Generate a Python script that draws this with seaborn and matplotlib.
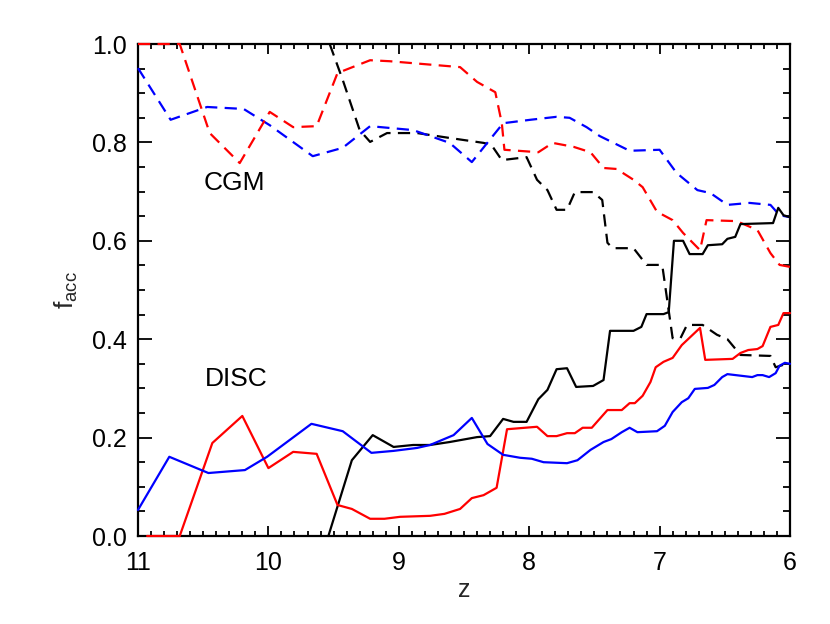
import numpy as np
import pandas as pd
import matplotlib
matplotlib.use("Agg")
import matplotlib.pyplot as plt
import seaborn as sns
from matplotlib.ticker import MultipleLocator

# ---------------- data ----------------
z_red_cgm = [11.0, 10.68, 10.45, 10.22, 9.99, 9.81, 9.63, 9.47, 9.22, 9.07, 8.53, 8.40, 8.26, 8.21, 8.19,
             7.93, 7.82, 7.66, 7.53, 7.43, 7.33, 7.20, 7.13, 7.02, 6.90, 6.82, 6.69, 6.64, 6.41, 6.25,
             6.15, 6.08, 6.0]
f_red_cgm = [1.0, 1.0, 0.819, 0.758, 0.862, 0.831, 0.833, 0.941, 0.967, 0.965, 0.953, 0.923, 0.902, 0.839, 0.785,
             0.780, 0.799, 0.791, 0.780, 0.748, 0.746, 0.724, 0.709, 0.659, 0.642, 0.616, 0.581, 0.642, 0.640, 0.622,
             0.575, 0.551, 0.547]

z_blue_cgm = [11.0, 10.75, 10.47, 10.19, 9.99, 9.66, 9.43, 9.22, 8.89, 8.61, 8.44, 8.20, 7.99, 7.79, 7.69,
              7.56, 7.46, 7.23, 7.00, 6.87, 6.71, 6.61, 6.48, 6.31, 6.15, 6.08, 6.0]
f_blue_cgm = [0.951, 0.846, 0.872, 0.868, 0.835, 0.772, 0.789, 0.833, 0.825, 0.799, 0.760, 0.839, 0.846, 0.852, 0.850,
              0.831, 0.813, 0.783, 0.785, 0.738, 0.703, 0.697, 0.673, 0.677, 0.673, 0.652, 0.648]

z_black_cgm = [9.53, 9.43, 9.30, 9.22, 9.09, 8.86, 8.61, 8.35, 8.29, 8.21, 8.02, 7.94, 7.86, 7.79, 7.71,
               7.65, 7.51, 7.44, 7.40, 7.36, 7.20, 7.10, 6.98, 6.90, 6.84, 6.79, 6.67, 6.56, 6.48, 6.38,
               6.15, 6.11, 6.05]
f_black_cgm = [1.0, 0.927, 0.825, 0.801, 0.819, 0.819, 0.809, 0.799, 0.795, 0.764, 0.770, 0.724, 0.703, 0.663, 0.663,
               0.699, 0.699, 0.683, 0.596, 0.585, 0.585, 0.551, 0.551, 0.402, 0.402, 0.429, 0.429, 0.409, 0.400, 0.368,
               0.366, 0.343, 0.348]

z_black_disc = [9.54, 9.36, 9.20, 9.04, 8.89, 8.76, 8.61, 8.40, 8.30, 8.20, 8.12, 8.02, 7.93, 7.86, 7.79,
                7.71, 7.64, 7.51, 7.43, 7.38, 7.20, 7.14, 7.10, 6.97, 6.93, 6.89, 6.82, 6.77, 6.67, 6.63,
                6.52, 6.48, 6.42, 6.38, 6.13, 6.09, 6.05, 6.0]
f_black_disc = [0.0, 0.154, 0.205, 0.181, 0.185, 0.185, 0.191, 0.201, 0.203, 0.238, 0.232, 0.232, 0.278, 0.297, 0.339,
                0.341, 0.303, 0.305, 0.317, 0.417, 0.417, 0.425, 0.451, 0.451, 0.455, 0.600, 0.600, 0.573, 0.573, 0.591,
                0.593, 0.604, 0.608, 0.634, 0.636, 0.667, 0.652, 0.648]

z_red_disc = [10.93, 10.68, 10.43, 10.20, 10.00, 9.81, 9.63, 9.47, 9.36, 9.22, 9.11, 8.99, 8.76, 8.65, 8.53,
              8.44, 8.35, 8.25, 8.17, 7.94, 7.86, 7.79, 7.71, 7.65, 7.59, 7.52, 7.44, 7.40, 7.29, 7.23,
              7.19, 7.13, 7.07, 7.03, 6.97, 6.90, 6.83, 6.69, 6.65, 6.44, 6.38, 6.32, 6.25, 6.21, 6.15,
              6.09, 6.05, 6.0]
f_red_disc = [0.0, 0.0, 0.189, 0.244, 0.138, 0.171, 0.167, 0.063, 0.055, 0.035, 0.035, 0.039, 0.041, 0.045, 0.055,
              0.077, 0.083, 0.098, 0.217, 0.222, 0.203, 0.203, 0.209, 0.209, 0.220, 0.220, 0.244, 0.256, 0.256, 0.270,
              0.270, 0.285, 0.313, 0.343, 0.354, 0.362, 0.388, 0.423, 0.358, 0.360, 0.372, 0.378, 0.380, 0.386, 0.425,
              0.429, 0.453, 0.453]

z_blue_disc = [11.0, 10.76, 10.46, 10.18, 10.01, 9.67, 9.43, 9.21, 9.04, 8.86, 8.76, 8.58, 8.44, 8.32, 8.20,
               8.07, 7.98, 7.89, 7.71, 7.63, 7.53, 7.43, 7.37, 7.29, 7.23, 7.17, 7.02, 6.96, 6.90, 6.83,
               6.78, 6.73, 6.63, 6.58, 6.52, 6.48, 6.29, 6.25, 6.21, 6.16, 6.11, 6.08, 6.04, 6.0]
f_blue_disc = [0.053, 0.161, 0.128, 0.134, 0.161, 0.228, 0.213, 0.169, 0.173, 0.179, 0.185, 0.205, 0.240, 0.187, 0.165,
               0.159, 0.157, 0.150, 0.148, 0.154, 0.175, 0.191, 0.197, 0.211, 0.220, 0.211, 0.213, 0.224, 0.252, 0.272,
               0.280, 0.299, 0.301, 0.307, 0.323, 0.329, 0.323, 0.327, 0.327, 0.323, 0.331, 0.346, 0.352, 0.350]

x_ticks = [11, 10, 9, 8, 7, 6]
y_ticks = [0.0, 0.2, 0.4, 0.6, 0.8, 1.0]

# ---------------- style ----------------
sns.set_style("ticks")
plt.rcParams['font.family'] = ['Liberation Sans', 'DejaVu Sans']
plt.rcParams['mathtext.fontset'] = 'custom'
plt.rcParams['mathtext.rm'] = 'Liberation Sans'
plt.rcParams['mathtext.it'] = 'Liberation Sans'

fig = plt.figure(figsize=(8.3, 6.24), dpi=100)
ax = fig.add_axes([138/830, 1-536/624, (790-138)/830, (536-44)/624])

lw = 1.6
series = [
    (z_black_cgm, f_black_cgm, 'black', True),
    (z_blue_cgm, f_blue_cgm, 'blue', True),
    (z_red_cgm, f_red_cgm, 'red', True),
    (z_black_disc, f_black_disc, 'black', False),
    (z_red_disc, f_red_disc, 'red', False),
    (z_blue_disc, f_blue_disc, 'blue', False),
]
for zz, ff, col, dashed in series:
    df = pd.DataFrame({'z': zz, 'f': ff})
    sns.lineplot(data=df, x='z', y='f', color=col, lw=lw, sort=False,
                 estimator=None, ax=ax)
    ln = ax.lines[-1]
    ln.set_clip_on(False)
    ln.set_zorder(3)
    if dashed:
        ln.set_dashes((5.5, 3.3))

ax.set_xlim(11, 6)
ax.set_ylim(0.0, 1.0)
ax.set_xticks(x_ticks)
ax.set_xticklabels([str(t) for t in x_ticks])
ax.set_yticks(y_ticks)
ax.set_yticklabels([f"{t:.1f}" for t in y_ticks])
ax.xaxis.set_minor_locator(MultipleLocator(0.1))
ax.yaxis.set_minor_locator(MultipleLocator(0.05))

for s in ax.spines.values():
    s.set_linewidth(1.6)
    s.set_color('black')
    s.set_visible(True)
    s.set_zorder(2.5)

ax.tick_params(axis='both', which='both', direction='in', top=True, right=True,
               colors='black', width=1.3)
ax.tick_params(axis='x', which='major', length=7.5, pad=11, labelsize=18)
ax.tick_params(axis='x', which='minor', length=3.8)
ax.tick_params(axis='y', which='major', length=10, pad=8, labelsize=18)
ax.tick_params(axis='y', which='minor', length=5)

ax.set_xlabel('z', fontsize=18, labelpad=2)
ax.set_ylabel(r'f$_{\mathrm{acc}}$', fontsize=19, labelpad=9)

ax.text(10.26, 0.717, 'CGM', fontsize=19, ha='center', va='center', color='black')
ax.text(10.25, 0.319, 'DISC', fontsize=19, ha='center', va='center', color='black')

fig.savefig('out.png', dpi=100)
